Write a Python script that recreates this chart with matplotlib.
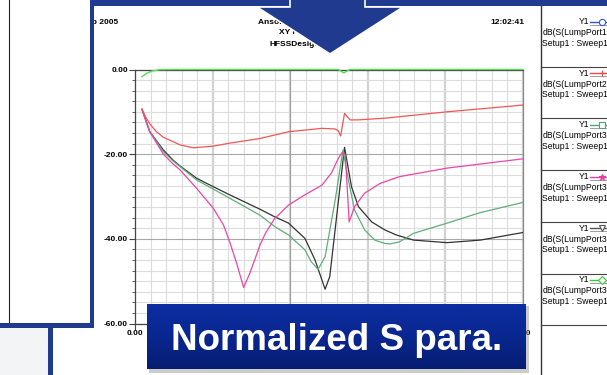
import numpy as np
import matplotlib
matplotlib.use("Agg")
import matplotlib.pyplot as plt
from matplotlib.patches import Rectangle, Polygon
from matplotlib.colors import LinearSegmentedColormap
from matplotlib.ticker import MultipleLocator, FormatStrFormatter, FuncFormatter

plt.rcParams['font.family'] = ['Liberation Sans', 'DejaVu Sans']

# curves (freq, dB)
green_x = [0.09, 0.15, 0.22, 0.32, 0.5, 2.62, 2.69, 2.77, 5.0]
green_y = [-1.7, -0.9, -0.35, -0.05, 0.0, 0.0, -0.8, 0.0, 0.0]

red_x = [0.09, 0.14, 0.19, 0.27, 0.365, 0.58, 0.75, 1.01, 1.22, 1.61, 1.98, 2.41, 2.58, 2.62,
         2.65, 2.70, 2.77, 2.88, 3.22, 4.02, 5.0]
red_y = [-9.4, -11.3, -12.8, -14.6, -16.0, -17.8, -18.5, -18.1, -17.4, -16.3, -14.7, -13.9,
         -14.05, -14.5, -15.7, -10.35, -11.9, -11.9, -11.5, -10.0, -8.4]

pink_x = [0.09, 0.19, 0.365, 0.49, 0.58, 0.795, 1.01, 1.14, 1.22, 1.31, 1.40, 1.48, 1.55,
          1.61, 1.68, 1.80, 1.98, 2.19, 2.41, 2.53, 2.62, 2.67, 2.71, 2.76, 2.83, 2.96, 3.16,
          3.41, 4.02, 5.0]
pink_y = [-9.4, -14.7, -20.0, -22.3, -23.7, -28.1, -32.8, -36.7, -40.7, -45.8, -51.5, -48.1,
          -44.6, -41.5, -38.7, -35.2, -32.0, -29.6, -27.3, -24.5, -21.0, -19.6, -20.2, -36.0,
          -32.4, -29.2, -26.9, -25.3, -23.3, -21.1]

sea_x = [0.09, 0.19, 0.365, 0.49, 0.795, 1.22, 1.61, 1.80, 1.98, 2.19, 2.27, 2.36, 2.45,
         2.58, 2.68, 2.75, 2.83, 2.96, 3.09, 3.22, 3.29, 3.41, 3.59, 4.02, 4.45, 5.0]
sea_y = [-9.4, -14.7, -19.4, -21.6, -26.1, -30.4, -34.4, -37.1, -39.1, -42.6, -45.4, -47.2,
         -44.2, -30.8, -19.0, -26.1, -33.2, -37.9, -40.3, -41.1, -41.2, -40.7, -38.7, -36.3,
         -33.8, -31.4]

black_x = [0.09, 0.19, 0.365, 0.49, 0.58, 0.795, 1.01, 1.22, 1.61, 1.80, 1.98, 2.19, 2.32,
           2.45, 2.51, 2.70, 2.79, 2.88, 3.05, 3.22, 3.37, 3.59, 4.02, 4.45, 5.0]
black_y = [-9.4, -14.7, -19.0, -21.4, -22.8, -25.7, -27.7, -29.6, -33.0, -34.8, -36.3, -39.9,
           -45.0, -51.9, -48.9, -18.4, -27.7, -32.4, -36.0, -37.9, -39.1, -40.3, -40.9, -40.3,
           -38.5]

legend_ports = ["LumpPort1,LumpPort1", "LumpPort2,LumpPort1", "LumpPort3,LumpPort1",
                "LumpPort3,LumpPort2", "LumpPort3,LumpPort3", "LumpPort3,LumpPort4"]
legend_colors = ['#3355e0', '#f04848', '#4fa56a', '#e8409e', '#555555', '#33cc33']
legend_markers = ['o', '+', 's', '*', 'v', 'D']

blue = '#1f3a8e'

fig = plt.figure(figsize=(6.07, 3.75), dpi=100)
W, H = 607, 375

ax = fig.add_axes([135 / W, (H - 323.5) / H, 388 / W, 254 / H])
ax.plot(black_x, black_y, color='#333333', lw=0.9, zorder=3)
ax.plot(sea_x, sea_y, color='#5fae7a', lw=0.9, zorder=3)
ax.plot(pink_x, pink_y, color='#ec45a8', lw=0.9, zorder=3)
ax.plot(red_x, red_y, color='#f25555', lw=0.9, zorder=3)
ax.plot(green_x, green_y, color='#55dd55', lw=1.0, zorder=4, clip_on=False)

ax.set_xlim(0, 5)
ax.set_ylim(-60, 0)
ax.xaxis.set_major_locator(MultipleLocator(1))
ax.xaxis.set_minor_locator(MultipleLocator(0.2))
ax.yaxis.set_major_locator(MultipleLocator(20))
ax.yaxis.set_minor_locator(MultipleLocator(2.5))
# middle x labels sit under the label box in the slide, only the ends show
ax.xaxis.set_major_formatter(FuncFormatter(lambda v, p: '%.2f' % v if v in (0, 5) else ''))
ax.yaxis.set_major_formatter(FormatStrFormatter('%.2f'))
ax.grid(which='minor', color='#dcdcdc', lw=0.8)
ax.grid(which='major', axis='x', color='#d2d2d2', lw=1.6)
ax.grid(which='major', axis='y', color='#a8a8a8', lw=0.8)
ax.axvline(2, color='#a0a0a0', lw=0.8, zorder=1)
ax.set_axisbelow(True)
ax.tick_params(which='major', length=4, width=0.8, color='#444444', labelsize=6, pad=1)
ax.tick_params(which='minor', length=2, width=0.6, color='#444444')
for lab in ax.get_xticklabels() + ax.get_yticklabels():
    lab.set_fontweight('bold')
for s in ['left', 'bottom', 'top']:
    ax.spines[s].set_color('#444444')
    ax.spines[s].set_linewidth(0.9)
ax.spines['right'].set_color('#888888')
ax.spines['right'].set_linewidth(0.9)

# overlay in pixel coordinates
ov = fig.add_axes([0, 0, 1, 1], zorder=5)
ov.set_xlim(0, W)
ov.set_ylim(H, 0)
ov.axis('off')
ov.patch.set_alpha(0)

# header of the HFSS plot
hdr = dict(fontsize=6, fontweight='bold', va='center', zorder=2)
ov.text(118, 22, "15Sep 2005", ha='right', **hdr)
ov.text(524, 22, "12:02:41", ha='right', **hdr)
ov.text(297, 22, "Ansoft Corporation", ha='center', **hdr)
ov.text(297, 33, "XY Plot 1", ha='center', **hdr)
ov.text(297, 44, "HFSSDesign1", ha='center', **hdr)

# legend panel
ov.plot([540.5, 540.5], [6, H], color='#333333', lw=1.0, zorder=2)
for i, port in enumerate(legend_ports):
    y0 = 21.7 + i * 51.6
    ov.text(589, y0, "Y1", ha='right', va='center', fontsize=6.2, zorder=2)
    ov.plot([590, 607], [y0, y0], color=legend_colors[i], lw=1.0, zorder=2)
    ov.plot([590, 607], [y0 + 3, y0 + 3], color='#777777', lw=0.5, zorder=2)
    ov.plot([602], [y0], marker=legend_markers[i], ms=4.5,
            mfc='white' if legend_markers[i] not in ['+', '*'] else legend_colors[i],
            mec=legend_colors[i], mew=0.8, zorder=3, clip_on=False)
    ov.text(542.5, y0 + 11, "dB(S(" + port + "))", ha='left', va='center', fontsize=6.2, zorder=2)
    ov.text(542.5, y0 + 21.6, "Setup1 : Sweep1", ha='left', va='center', fontsize=6.2, zorder=2)
    ysep = 66.7 + i * 51.7
    ov.plot([541, W], [ysep, ysep], color='#444444', lw=0.8, zorder=2)

# left slide box
ov.add_patch(Rectangle((0, 0), 92, 325, facecolor='white', edgecolor='none', zorder=4))
ov.plot([9, 9], [0, 323], color='#222222', lw=0.8, zorder=5)
ov.add_patch(Rectangle((89.5, 0), 4.5, 327.5, facecolor=blue, edgecolor='none', zorder=5))
ov.add_patch(Rectangle((0, 322.5), 94, 5, facecolor=blue, edgecolor='none', zorder=5))
ov.add_patch(Rectangle((0, 327.5), 48, 48, facecolor='#f3f4f6', edgecolor='none', zorder=4))
ov.add_patch(Rectangle((48, 323), 5, 52, facecolor=blue, edgecolor='none', zorder=5))

# top band and arrow
ov.add_patch(Rectangle((90, 0), W - 90, 5.5, facecolor=blue, edgecolor='none', zorder=5))
arrow = [(290, -3), (365, -3), (365, 7), (403, 7), (330, 54), (257, 7), (290, 7)]
ov.add_patch(Polygon(arrow, closed=True, facecolor=blue, edgecolor='white', lw=1.2, zorder=6))

# label box with gradient
ov.add_patch(Rectangle((149, 306), 380, 67, facecolor='#9a9a9a', alpha=0.5, edgecolor='none', zorder=6))
cmap = LinearSegmentedColormap.from_list('bx', ['#0c2ea2', '#0a2790', '#071d72'])
grad = np.linspace(0, 1, 64).reshape(-1, 1)
ov.imshow(grad, extent=(147, 526, 369, 304), aspect='auto', cmap=cmap, zorder=7)
ov.text(336.5, 350, "Normalized S para.", ha='center', va='baseline', color='white',
        fontsize=26.5, fontweight='bold', zorder=8)
ov.set_xlim(0, W)
ov.set_ylim(H, 0)

fig.savefig("out.png", dpi=100)
